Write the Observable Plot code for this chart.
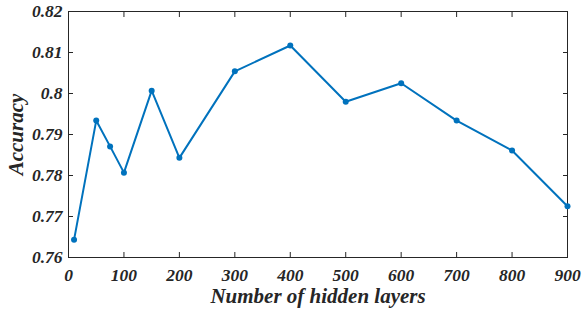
<!DOCTYPE html>
<html>
<head>
<meta charset="utf-8">
<script src="https://cdn.jsdelivr.net/npm/d3@7"></script>
<script src="https://cdn.jsdelivr.net/npm/@observablehq/plot@0.6"></script>
<style>
  body { margin: 0; background: #fff; }
  #chart svg, #chart svg text { font-family: "Liberation Serif", "Times New Roman", serif !important; font-weight: bold !important; font-style: italic !important; }
  #chart svg text { font-size: 17.5px; }
  #chart [aria-label="x-axis label"] text, #chart [aria-label="y-axis label"] text { font-size: 21px !important; }
</style>
</head>
<body>
<div id="chart"></div>
<script>
const hiddenLayers = [10, 50, 75, 100, 150, 200, 300, 400, 500, 600, 700, 800, 900];
const accuracy = [0.7643, 0.7934, 0.7871, 0.7807, 0.8007, 0.7843, 0.8054, 0.8117, 0.7980, 0.8025, 0.7934, 0.7861, 0.7725];
const xTicks = [0, 100, 200, 300, 400, 500, 600, 700, 800, 900];
const yTicks = [0.76, 0.77, 0.78, 0.79, 0.80, 0.81, 0.82];
const xLabel = "Number of hidden layers";
const yLabel = "Accuracy";

const data = hiddenLayers.map((x, i) => ({x, y: accuracy[i]}));
const ink = "#262626";
const blue = "#0072BD";
const fmtY = d => d3.format(".2f")(d).replace(/0$/, "").replace(/\.$/, "");

const chart = Plot.plot({
  width: 584,
  height: 312,
  marginLeft: 68,
  marginRight: 17,
  marginTop: 11,
  marginBottom: 55,
  style: {fontSize: "17px", color: ink, background: "#fff", overflow: "visible"},
  x: {domain: [0, 900]},
  y: {domain: [0.76, 0.82]},
  marks: [
    Plot.frame({stroke: ink, strokeWidth: 1}),
    Plot.axisX(xTicks, {anchor: "bottom", tickSize: 0, tickPadding: 11, tickFormat: d => String(d), label: xLabel, labelAnchor: "center", labelArrow: "none", labelOffset: 45, fill: ink}),
    Plot.axisX(xTicks, {anchor: "bottom", tickSize: -5, tickFormat: () => "", label: null, stroke: ink}),
    Plot.axisX(xTicks, {anchor: "top", tickSize: -5, tickFormat: () => "", label: null, stroke: ink}),
    Plot.axisY(yTicks, {anchor: "left", tickSize: 0, tickPadding: 6, tickFormat: fmtY, label: yLabel, labelAnchor: "center", labelArrow: "none", labelOffset: 60, fill: ink}),
    Plot.axisY(yTicks, {anchor: "left", tickSize: -5, tickFormat: () => "", label: null, stroke: ink}),
    Plot.axisY(yTicks, {anchor: "right", tickSize: -5, tickFormat: () => "", label: null, stroke: ink}),
    Plot.line(data, {x: "x", y: "y", stroke: blue, strokeWidth: 2}),
    Plot.dot(data, {x: "x", y: "y", fill: blue, r: 3})
  ]
});
document.getElementById("chart").appendChild(chart);
</script>
</body>
</html>
